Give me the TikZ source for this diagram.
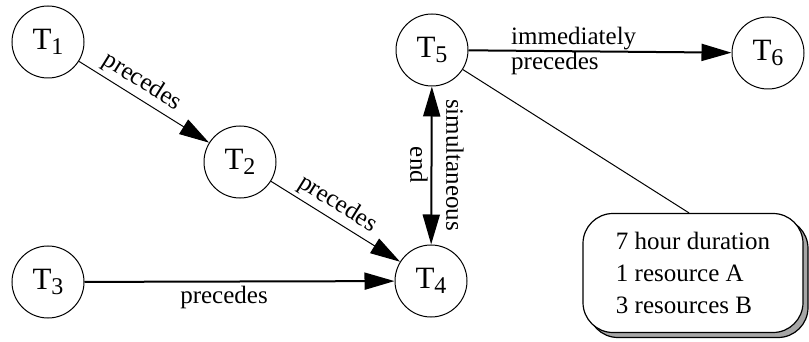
\documentclass[tikz,border=0pt]{standalone}
\usepackage{fontspec}
\setmainfont{Liberation Serif}
\usetikzlibrary{arrows.meta,shadows}
\newcommand\Tn[1]{T\raisebox{-0.4ex}{\fontsize{12}{12}\selectfont #1}}
\begin{document}
\begin{tikzpicture}[x=0.5pt,y=-0.5pt,
  task/.style={circle,draw,line width=0.5pt,minimum size=36pt,inner sep=0pt,font=\fontsize{15.5}{15.5}\selectfont},
  lbl/.style={font=\fontsize{12.5}{12.5}\selectfont,inner sep=2pt},
  lightedge/.style={line width=0.5pt,-{Triangle[length=15pt,width=8.5pt]}},
  heavyedge/.style={line width=1pt,-{Triangle[length=15pt,width=8.5pt]}},
  callout/.style={draw,line width=0.6pt,fill=white,rounded corners=15pt,minimum width=110pt,minimum height=59.5pt,align=left,
    font=\fontsize{12.5}{16}\selectfont,
    drop shadow={shadow xshift=2.5pt,shadow yshift=-2.5pt,fill=gray!70,draw=black,opacity=1}}
]
\useasboundingbox (0,0) rectangle (809,342);
\node[task] (T1) at (48,42) {\Tn{1}};
\node[task] (T2) at (240,162) {\Tn{2}};
\node[task] (T3) at (48,282) {\Tn{3}};
\node[task] (T4) at (431,281) {\Tn{4}};
\node[task] (T5) at (432,50) {\Tn{5}};
\node[task] (T6) at (768,53) {\Tn{6}};
\node[callout] (box) at (693,273) {7 hour duration\\1 resource A\\3 resources B};
\coordinate (boxtop) at ([xshift=-2pt]box.north);

\draw[lightedge] (T1) -- node[lbl,sloped,above,pos=0.42] {precedes} (T2);
\draw[lightedge] (T2) -- node[lbl,sloped,above,pos=0.45] {precedes} (T4);
\draw[heavyedge] (T3) -- node[lbl,below,pos=0.45] {precedes} (T4);
\draw[line width=1pt,{Triangle[length=15pt,width=8.5pt]}-{Triangle[length=15pt,width=8.5pt]}] (T5) -- (T4);
\node[lbl,rotate=-90,align=center,font=\fontsize{12.5}{18}\selectfont] (simlbl) at (437,165) {simultaneous\\end};
\draw[heavyedge] (T5) -- node[lbl,pos=0.4,align=left,font=\fontsize{12.5}{12.5}\selectfont] {immediately\\precedes} (T6);
\draw[line width=0.5pt] (T5) -- (boxtop);
\end{tikzpicture}
\end{document}
